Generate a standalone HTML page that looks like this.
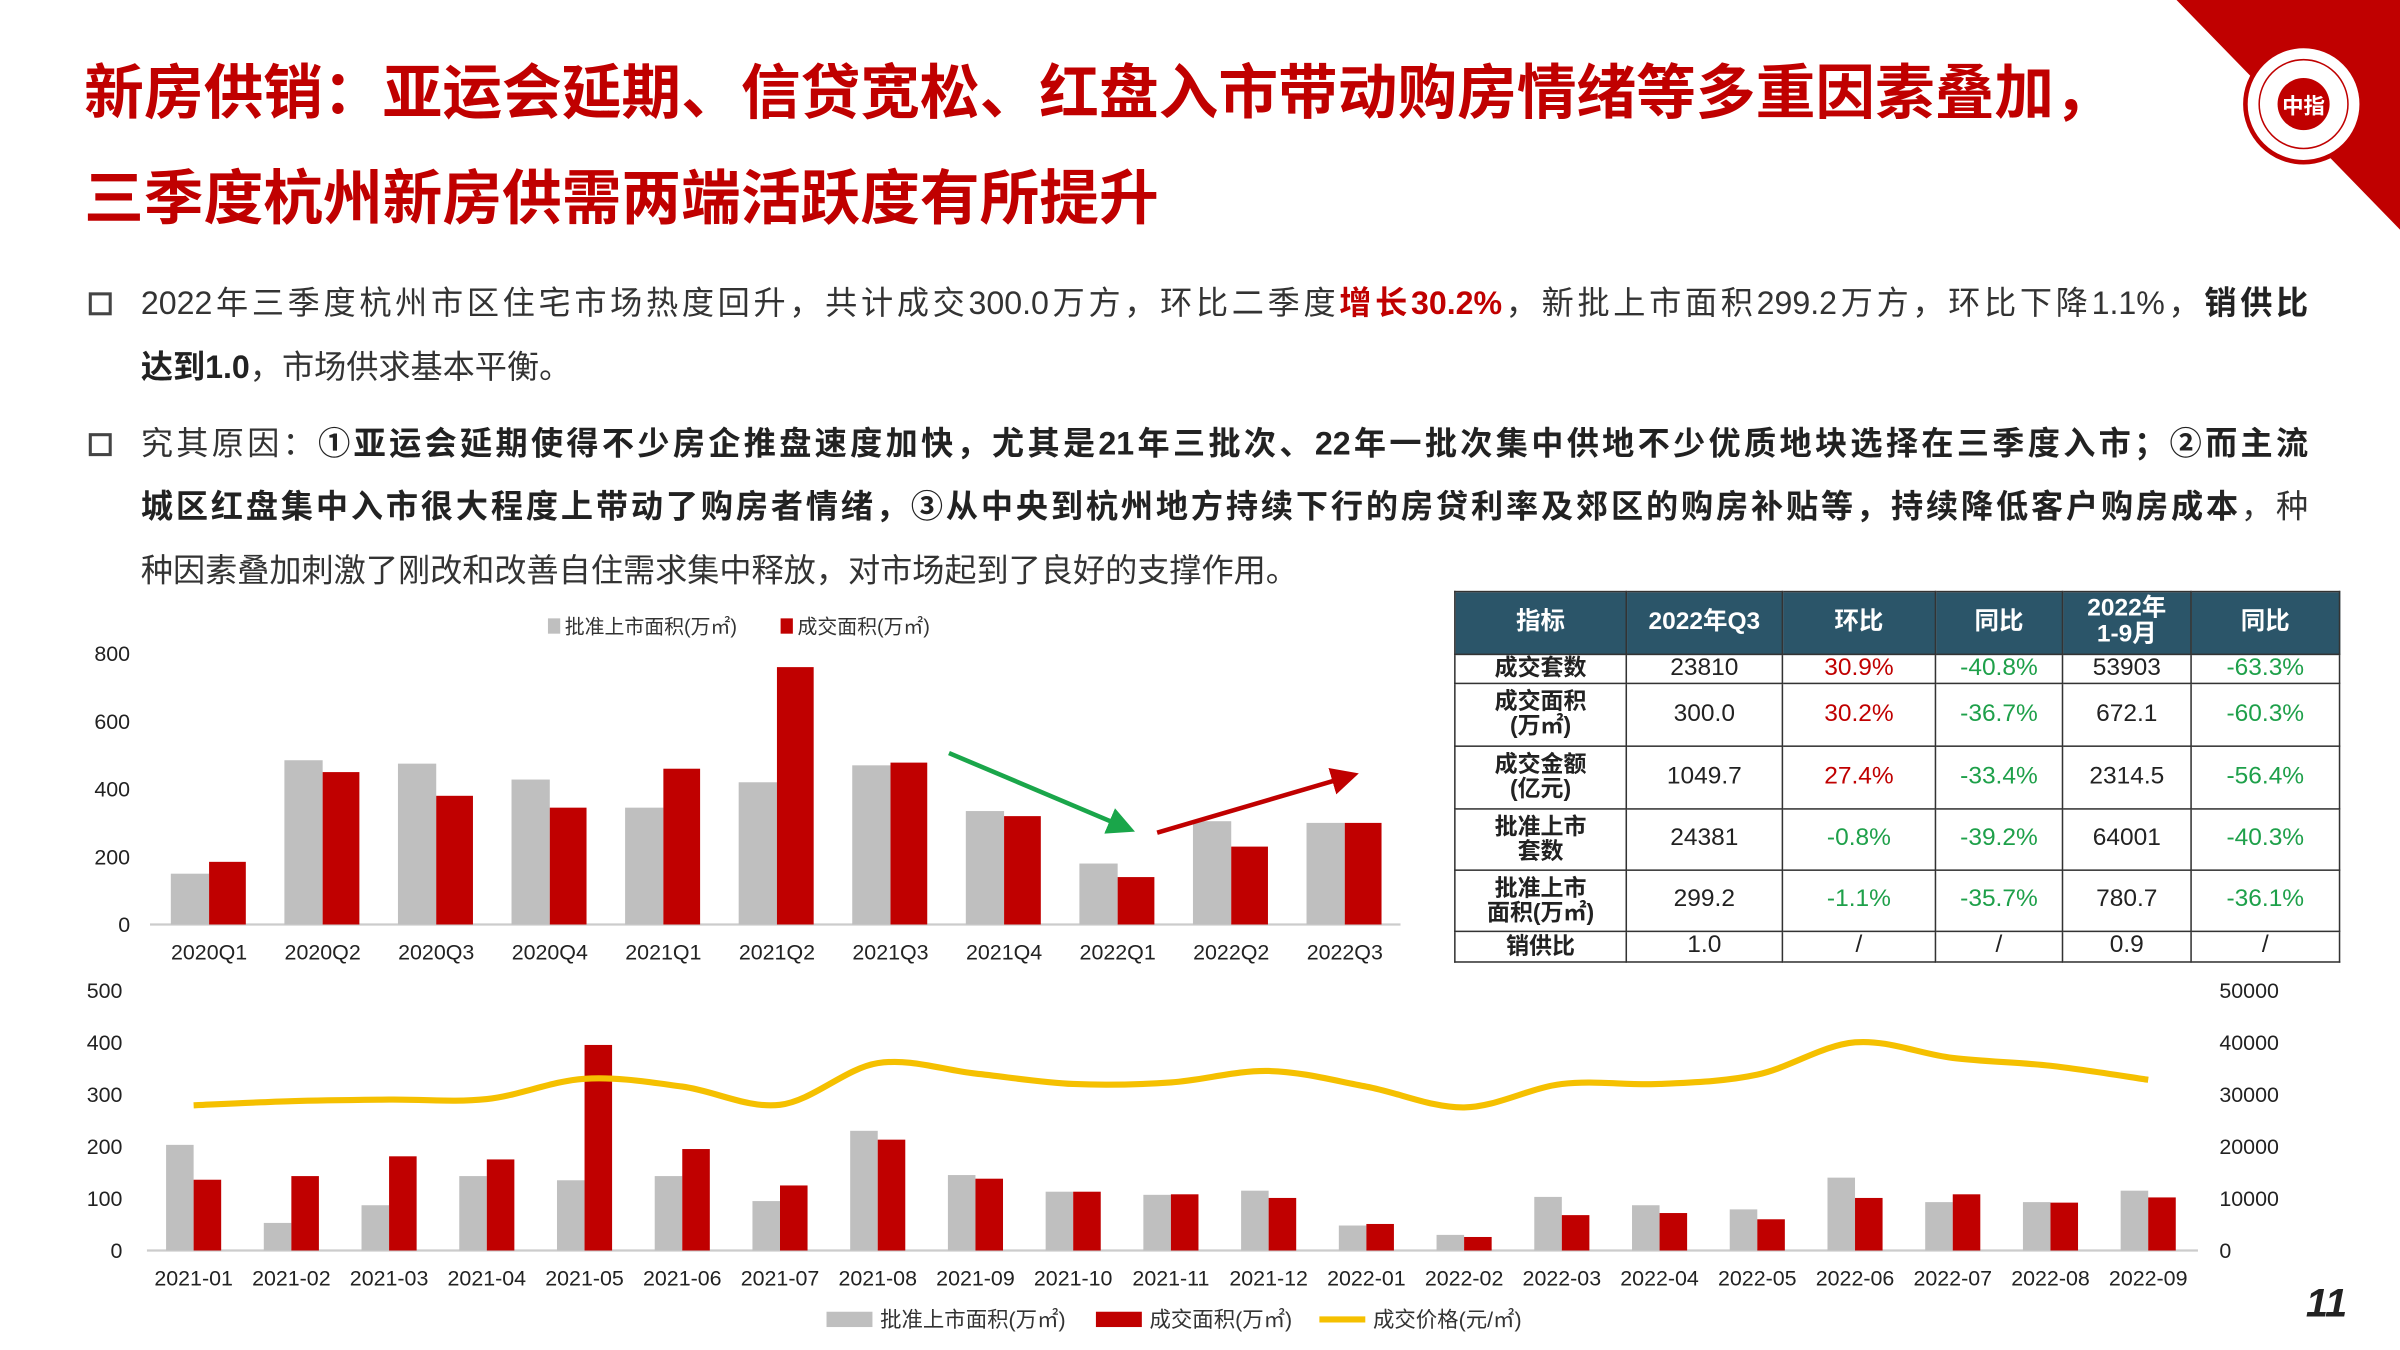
<!DOCTYPE html>
<html><head><meta charset="utf-8"><style>
html,body{margin:0;padding:0;background:#fff;overflow:hidden}
body{width:2400px;height:1350px;position:relative}
#s{position:absolute;left:0;top:0;width:1568px;height:882px;transform:scale(1.530612);transform-origin:0 0;font-family:"Liberation Sans","Noto Sans CJK SC",sans-serif;color:#222}
.t{position:absolute;left:55px;font-weight:bold;color:#c00000;font-size:39px;white-space:nowrap;line-height:1}
.ln{position:absolute;left:92px;width:1416px;font-size:21px;white-space:nowrap;line-height:1;color:#333}
.j{text-align:justify;text-align-last:justify}
.b{font-weight:bold;color:#222}
.sq{position:absolute;left:58px;width:11px;height:11px;border:2.5px solid #444}
table{position:absolute;left:950px;top:386px;border-collapse:collapse;font-size:16px}
td,th{border:1.5px solid #333;text-align:center;padding:0;line-height:1.05}
th{background:#2b5569;color:#fff;font-weight:bold;font-size:16px}
td.h{font-weight:bold;font-size:15px}
.r{color:#c00000}.g{color:#1ea04a}
</style></head><body><div id="s">
<svg width="1568" height="882" style="position:absolute;left:0;top:0">
<polygon points="1422,0 1568,0 1568,150" fill="#c00000"/>
<circle cx="1505" cy="68" r="38" fill="#fff" stroke="#c00000" stroke-width="3"/>
<circle cx="1505" cy="68" r="29" fill="none" stroke="#c00000" stroke-width="1"/>
<circle cx="1505" cy="68" r="17" fill="#c00000"/>
<text x="1505" y="74" font-size="14" fill="#fff" text-anchor="middle" font-weight="bold" font-family="Noto Sans CJK SC">中指</text>
<text x="1520" y="860" font-size="26" font-weight="bold" font-style="italic" fill="#222" text-anchor="middle" font-family="Liberation Sans">11</text>
</svg>
<div class="t" style="top:42px">新房供销：亚运会延期、信贷宽松、红盘入市带动购房情绪等多重因素叠加，</div>
<div class="t" style="top:111px">三季度杭州新房供需两端活跃度有所提升</div>
<div class="sq" style="top:191px"></div>
<div class="ln j" style="top:188px">2022年三季度杭州市区住宅市场热度回升，共计成交300.0万方，环比二季度<span class="b r">增长30.2%</span>，新批上市面积299.2万方，环比下降1.1%，<span class="b">销供比</span></div>
<div class="ln" style="top:230px"><span class="b">达到1.0</span>，市场供求基本平衡。</div>
<div class="sq" style="top:283px"></div>
<div class="ln j" style="top:280px">究其原因：<span class="b">①亚运会延期使得不少房企推盘速度加快，尤其是21年三批次、22年一批次集中供地不少优质地块选择在三季度入市；②而主流</span></div>
<div class="ln j" style="top:321px"><span class="b">城区红盘集中入市很大程度上带动了购房者情绪，③从中央到杭州地方持续下行的房贷利率及郊区的购房补贴等，持续降低客户购房成本</span>，种</div>
<div class="ln" style="top:363px">种因素叠加刺激了刚改和改善自住需求集中释放，对市场起到了良好的支撑作用。</div>
<table>
<tr style="height:41px"><th style="width:111px">指标</th><th style="width:101px">2022年Q3</th><th style="width:99px">环比</th><th style="width:82px">同比</th><th style="width:83px">2022年<br>1-9月</th><th style="width:96px">同比</th></tr>
<tr style="height:19px"><td class="h">成交套数</td><td>23810</td><td class="r">30.9%</td><td class="g">-40.8%</td><td>53903</td><td class="g">-63.3%</td></tr>
<tr style="height:41px"><td class="h">成交面积<br>(万㎡)</td><td>300.0</td><td class="r">30.2%</td><td class="g">-36.7%</td><td>672.1</td><td class="g">-60.3%</td></tr>
<tr style="height:41px"><td class="h">成交金额<br>(亿元)</td><td>1049.7</td><td class="r">27.4%</td><td class="g">-33.4%</td><td>2314.5</td><td class="g">-56.4%</td></tr>
<tr style="height:40px"><td class="h">批准上市<br>套数</td><td>24381</td><td class="g">-0.8%</td><td class="g">-39.2%</td><td>64001</td><td class="g">-40.3%</td></tr>
<tr style="height:40px"><td class="h">批准上市<br>面积(万㎡)</td><td>299.2</td><td class="g">-1.1%</td><td class="g">-35.7%</td><td>780.7</td><td class="g">-36.1%</td></tr>
<tr style="height:20px"><td class="h">销供比</td><td>1.0</td><td>/</td><td>/</td><td>0.9</td><td>/</td></tr>
</table>
<svg id="c" width="1568" height="882" style="position:absolute;left:0;top:0" font-family="Liberation Sans, Noto Sans CJK SC, sans-serif"></svg>
</div>
<script>
var S='',c=document.getElementById('c');
function R(x,y,w,h,f){S+='<rect x="'+x+'" y="'+y+'" width="'+w+'" height="'+h+'" fill="'+f+'"/>';}
function T(x,y,t,sz,a,f){S+='<text x="'+x+'" y="'+y+'" font-size="'+sz+'" text-anchor="'+(a||'middle')+'" fill="'+(f||'#222')+'">'+t+'</text>';}
// top chart
var q=['2020Q1','2020Q2','2020Q3','2020Q4','2021Q1','2021Q2','2021Q3','2021Q4','2022Q1','2022Q2','2022Q3'];
var g1=[150,485,475,428,345,420,470,335,180,305,300],r1=[185,450,380,345,460,760,478,320,140,230,300];
var y0=604,k=177/800;
for(var i=0;i<5;i++)T(85,y0-i*200*k+5,i*200,14,'end');
S+='<line x1="98" y1="604" x2="915" y2="604" stroke="#ccc" stroke-width="1.5"/>';
for(i=0;i<11;i++){var cx=136.6+i*74.2;R(cx-25,y0-g1[i]*k,25,g1[i]*k,'#bfbfbf');R(cx,y0-r1[i]*k,24,r1[i]*k,'#c00000');T(cx,627,q[i],14);}
R(358,404,8,10,'#bfbfbf');T(369,414,'批准上市面积(万㎡)',13,'start','#333');R(510,404,8,10,'#c00000');T(521,414,'成交面积(万㎡)',13,'start','#333');
S+='<defs><marker id="mg" markerWidth="6" markerHeight="6" refX="4" refY="3" orient="auto"><path d="M0,0L6,3L0,6z" fill="#1aa64a"/></marker><marker id="mr" markerWidth="6" markerHeight="6" refX="4" refY="3" orient="auto"><path d="M0,0L6,3L0,6z" fill="#c00000"/></marker></defs>';
S+='<line x1="620" y1="492" x2="736" y2="541" stroke="#1aa64a" stroke-width="3" marker-end="url(#mg)"/>';
S+='<line x1="756" y1="544" x2="882" y2="507" stroke="#c00000" stroke-width="3" marker-end="url(#mr)"/>';
// bottom chart
var m=['2021-01','2021-02','2021-03','2021-04','2021-05','2021-06','2021-07','2021-08','2021-09','2021-10','2021-11','2021-12','2022-01','2022-02','2022-03','2022-04','2022-05','2022-06','2022-07','2022-08','2022-09'];
var g2=[203,53,87,143,135,143,95,230,145,113,107,115,48,30,103,87,79,140,93,93,115];
var r2=[136,143,181,175,395,195,125,213,138,113,108,101,51,26,68,72,60,101,108,92,102];
var p=[27900,28700,29000,29100,33000,31500,28000,36000,34000,32000,32300,34500,31500,27500,32000,32000,33800,40000,37000,35500,32800];
var b0=817,kb=170/500;
for(i=0;i<6;i++){T(80,b0-i*100*kb+5,i*100,14,'end');T(1450,b0-i*100*kb+5,i*10000,14,'start');}
S+='<line x1="96" y1="817" x2="1436" y2="817" stroke="#ccc" stroke-width="1.5"/>';
var pts=[];
for(i=0;i<21;i++){var x=126.5+i*63.85;R(x-18,b0-g2[i]*kb,18,g2[i]*kb,'#bfbfbf');R(x,b0-r2[i]*kb,18,r2[i]*kb,'#c00000');T(x,840,m[i],14);pts.push([x,b0-p[i]/100*kb]);}
var d='M'+pts[0][0]+','+pts[0][1];
for(i=0;i<pts.length-1;i++){var p0=pts[Math.max(i-1,0)],p1=pts[i],p2=pts[i+1],p3=pts[Math.min(i+2,pts.length-1)];
d+='C'+(p1[0]+(p2[0]-p0[0])/6)+','+(p1[1]+(p2[1]-p0[1])/6)+' '+(p2[0]-(p3[0]-p1[0])/6)+','+(p2[1]-(p3[1]-p1[1])/6)+' '+p2[0]+','+p2[1];}
S+='<path d="'+d+'" fill="none" stroke="#f5c000" stroke-width="4"/>';
R(540,857,30,10,'#bfbfbf');T(575,867,'批准上市面积(万㎡)',14,'start','#333');
R(716,857,30,10,'#c00000');T(751,867,'成交面积(万㎡)',14,'start','#333');
S+='<line x1="862" y1="862" x2="892" y2="862" stroke="#f5c000" stroke-width="4"/>';T(897,867,'成交价格(元/㎡)',14,'start','#333');
c.innerHTML=S;
</script>
</body></html>
